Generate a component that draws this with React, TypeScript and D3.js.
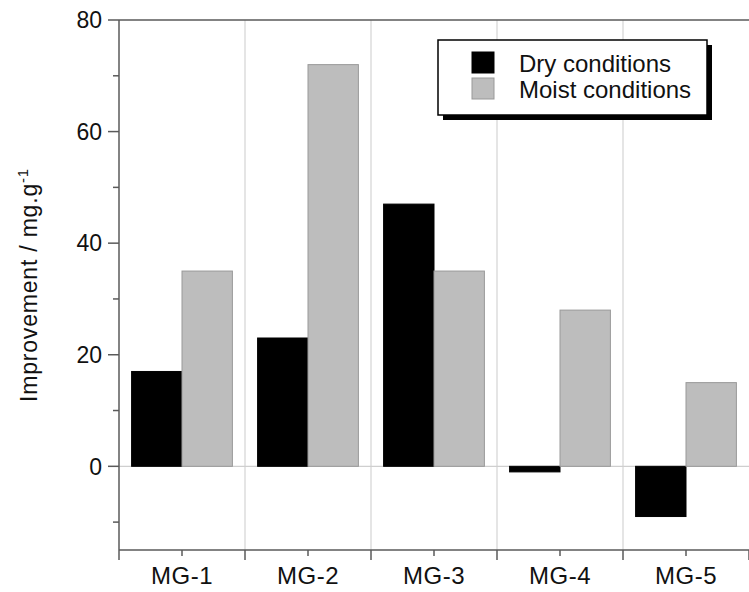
import React, { useEffect, useRef } from "react";
import * as d3 from "d3";

const categories = ["MG-1", "MG-2", "MG-3", "MG-4", "MG-5"];
const seriesNames = ["Dry conditions", "Moist conditions"];
const dryValues = [17, 23, 47, -1, -9];
const moistValues = [35, 72, 35, 28, 15];
const majorTicks = [0, 20, 40, 60, 80];
const minorTicks = [-10, 10, 30, 50, 70];

const App = () => {
  const svgRef = useRef<SVGSVGElement>(null);
  const width = 749;
  const height = 592;

  useEffect(() => {
    const svg = d3.select(svgRef.current);
    svg.selectAll("*").remove(); // start clean

    const margin = { top: 20, right: 0, bottom: 42, left: 119 };
    const font = "'Liberation Sans', Arial, Helvetica, sans-serif";
    const axisColor = "#5a5a5a";

    const x = d3
      .scaleBand()
      .domain(categories)
      .range([margin.left, width - margin.right])
      .padding(0);

    // two bars per group, ~12px gap on each side
    const inner = d3
      .scaleBand()
      .domain(seriesNames)
      .range([0, x.bandwidth()])
      .paddingInner(0)
      .paddingOuter(0.25);

    const y = d3
      .scaleLinear()
      .domain([-15, 80])
      .range([height - margin.bottom, margin.top]);

    const colors = { dry: "#000000", moist: "#bdbdbd" };

    // vertical grid lines between groups
    const bounds = categories.slice(1).map((c) => x(c));
    svg
      .append("g")
      .selectAll("line")
      .data(bounds)
      .enter()
      .append("line")
      .attr("x1", (d) => d)
      .attr("x2", (d) => d)
      .attr("y1", y(80))
      .attr("y2", y(-15))
      .attr("stroke", "#d4d4d4")
      .attr("stroke-width", 1.2);

    // zero line
    svg
      .append("line")
      .attr("x1", margin.left)
      .attr("x2", width)
      .attr("y1", y(0))
      .attr("y2", y(0))
      .attr("stroke", "#cfcfcf")
      .attr("stroke-width", 1.2);

    // bars
    const rows = categories.map((c, i) => ({ cat: c, dry: dryValues[i], moist: moistValues[i] }));
    const groups = svg
      .append("g")
      .selectAll("g")
      .data(rows)
      .enter()
      .append("g")
      .attr("transform", (d) => `translate(${x(d.cat)},0)`);

    groups
      .append("rect")
      .attr("x", inner(seriesNames[0]))
      .attr("width", inner.bandwidth())
      .attr("y", (d) => y(Math.max(0, d.dry)))
      .attr("height", (d) => Math.abs(y(d.dry) - y(0)))
      .attr("fill", colors.dry)
      .attr("stroke", "#000")
      .attr("stroke-width", 1);

    groups
      .append("rect")
      .attr("x", inner(seriesNames[1]))
      .attr("width", inner.bandwidth())
      .attr("y", (d) => y(Math.max(0, d.moist)))
      .attr("height", (d) => Math.abs(y(d.moist) - y(0)))
      .attr("fill", colors.moist)
      .attr("stroke", "#999")
      .attr("stroke-width", 1);

    // top frame line
    svg
      .append("line")
      .attr("x1", margin.left)
      .attr("x2", width)
      .attr("y1", y(80))
      .attr("y2", y(80))
      .attr("stroke", axisColor)
      .attr("stroke-width", 1.5);

    // y axis (major + minor ticks)
    const yAxis = svg.append("g").attr("transform", `translate(${margin.left},0)`);
    yAxis
      .append("line")
      .attr("y1", y(80))
      .attr("y2", y(-15))
      .attr("stroke", axisColor)
      .attr("stroke-width", 1.5);
    yAxis
      .selectAll(".major")
      .data(majorTicks)
      .enter()
      .append("line")
      .attr("x1", -11)
      .attr("x2", 0)
      .attr("y1", (d) => y(d))
      .attr("y2", (d) => y(d))
      .attr("stroke", axisColor)
      .attr("stroke-width", 1.5);
    yAxis
      .selectAll(".minor")
      .data(minorTicks)
      .enter()
      .append("line")
      .attr("x1", -6)
      .attr("x2", 0)
      .attr("y1", (d) => y(d))
      .attr("y2", (d) => y(d))
      .attr("stroke", axisColor)
      .attr("stroke-width", 1.5);
    yAxis
      .selectAll("text")
      .data(majorTicks)
      .enter()
      .append("text")
      .attr("x", -17)
      .attr("y", (d) => y(d))
      .attr("dy", "0.36em")
      .attr("text-anchor", "end")
      .attr("font-family", font)
      .attr("font-size", 23)
      .attr("fill", "#111")
      .text((d) => d);

    // x axis
    const xAxis = svg.append("g").attr("transform", `translate(0,${y(-15)})`);
    xAxis
      .append("line")
      .attr("x1", margin.left)
      .attr("x2", width)
      .attr("stroke", axisColor)
      .attr("stroke-width", 1.5);
    const edges = categories.map((c) => x(c)).concat([width]);
    xAxis
      .selectAll(".major")
      .data(edges)
      .enter()
      .append("line")
      .attr("x1", (d) => d)
      .attr("x2", (d) => d)
      .attr("y1", 0)
      .attr("y2", 10)
      .attr("stroke", axisColor)
      .attr("stroke-width", 1.5);
    xAxis
      .selectAll(".minor")
      .data(categories)
      .enter()
      .append("line")
      .attr("x1", (d) => x(d) + x.bandwidth() / 2)
      .attr("x2", (d) => x(d) + x.bandwidth() / 2)
      .attr("y1", 0)
      .attr("y2", 6)
      .attr("stroke", axisColor)
      .attr("stroke-width", 1.5);
    xAxis
      .selectAll("text")
      .data(categories)
      .enter()
      .append("text")
      .attr("x", (d) => x(d) + x.bandwidth() / 2)
      .attr("y", 34)
      .attr("text-anchor", "middle")
      .attr("font-family", font)
      .attr("font-size", 24)
      .attr("letter-spacing", 0.5)
      .attr("fill", "#111")
      .text((d) => d);

    // y axis title
    const title = svg
      .append("text")
      .attr("transform", `translate(37,${(406 + 164) / 2}) rotate(-90)`)
      .attr("text-anchor", "middle")
      .attr("font-family", font)
      .attr("font-size", 23)
      .attr("letter-spacing", 0.8)
      .attr("fill", "#111");
    title.append("tspan").text("Improvement / mg.g");
    title.append("tspan").attr("font-size", 15).attr("dy", -9).text("-1");

    // legend
    const legend = svg.append("g").attr("transform", "translate(438,40)");
    legend.append("rect").attr("x", 5).attr("y", 5).attr("width", 269).attr("height", 75).attr("fill", "#000");
    legend
      .append("rect")
      .attr("width", 269)
      .attr("height", 75)
      .attr("fill", "#fff")
      .attr("stroke", "#000")
      .attr("stroke-width", 1.5);
    const items = legend
      .selectAll(".item")
      .data(seriesNames)
      .enter()
      .append("g")
      .attr("transform", (d, i) => `translate(34,${12 + i * 26})`);
    items
      .append("rect")
      .attr("width", 22)
      .attr("height", 21)
      .attr("fill", (d, i) => (i === 0 ? colors.dry : colors.moist))
      .attr("stroke", (d, i) => (i === 0 ? "#000" : "#999"));
    items
      .append("text")
      .attr("x", 47)
      .attr("y", 20)
      .attr("font-family", font)
      .attr("font-size", 24)
      .attr("fill", "#111")
      .text((d) => d);
  }, []);

  return (
    <svg
      ref={svgRef}
      width={width}
      height={height}
      style={{ position: "absolute", left: 0, top: 0, background: "#fff" }}
    ></svg>
  );
};

export default App;
